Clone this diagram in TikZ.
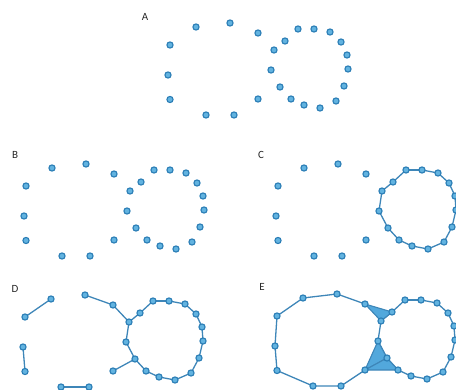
\documentclass[tikz,border=0pt]{standalone}
\usepackage{fontspec}
\setmainfont{Carlito}
\usetikzlibrary{backgrounds}
\definecolor{dotfill}{HTML}{62B3E0}
\definecolor{dotline}{HTML}{2A7DB5}
\definecolor{edgecol}{HTML}{3E86B8}
\definecolor{trifill}{HTML}{52A8DC}
\tikzset{
  dot/.style={circle,fill=dotfill,draw=dotline,line width=1.1pt,inner sep=0pt,minimum size=6.2pt},
  edge/.style={draw=edgecol,line width=1.3pt},
  tri/.style={fill=trifill,draw=edgecol,line width=1.1pt,line join=round},
  lbl/.style={font=\fontsize{11}{12}\selectfont,text=black!85,inner sep=0pt}
}
\newcommand\placepanel[3]{%
  \begin{scope}[shift={(#2,#3)}]
    \foreach \n/\px/\py in {L1/258/33,L2/230/23,L3/196/27,L4/170/45,L5/168/75,L6/170/99.5,L7/206/115,L8/234/115,L9/258/99,
      C1/298/29,C2/314/29,C3/330/32,C4/341/42,C5/347/55,C6/348/69,C7/344/86,C8/336/101,C9/320/108,C10/304/105,C11/291/99,C12/280/87,C13/271/70,C14/274/50,C15/285/41}
      \node[dot] (#1\n) at (\px,\py) {};
  \end{scope}}
\newcommand\ringedges[1]{%
  \foreach \i in {1,...,15}{%
    \pgfmathtruncatemacro\j{mod(\i,15)+1}%
    \draw[edge] (#1C\i.center) -- (#1C\j.center);}}
\begin{document}
\begin{tikzpicture}[x=1pt,y=-1pt]
\useasboundingbox (0,0) rectangle (456,389);
\clip (0,0) rectangle (456,389);
% panels
\placepanel{A}{0}{0}
\placepanel{B}{-144}{141}
\placepanel{C}{108}{141}
\placepanel{D}{-145}{272}
\placepanel{E}{107}{271}
% labels
\node[lbl] (labA) at (145,17) {A};
\node[lbl] (labB) at (15,155) {B};
\node[lbl] (labC) at (261,155) {C};
\node[lbl] (labD) at (15,289) {D};
\node[lbl] (labE) at (262,287) {E};
\begin{scope}[on background layer]
  % C
  \ringedges{C}
  % D
  \ringedges{D}
  \draw[edge] (DL3.center) -- (DL4.center);
  \draw[edge] (DL5.center) -- (DL6.center);
  \draw[edge] (DL7.center) -- (DL8.center);
  \draw[edge] (DL2.center) -- (DL1.center) -- (DC14.center);
  \draw[edge] (DL9.center) -- (DC12.center);
  % E
  \ringedges{E}
  \draw[edge,line join=round] (EL1.center) -- (EL2.center) -- (EL3.center) -- (EL4.center) -- (EL5.center) -- (EL6.center) -- (EL7.center) -- (EL8.center) -- (EL9.center);
  \draw[tri] (EL1.center) -- (EC15.center) -- (EC14.center) -- cycle;
  \draw[tri] (EL9.center) -- (EC13.center) -- (EC12.center) -- cycle;
  \draw[tri] (EL9.center) -- (EC12.center) -- (EC11.center) -- cycle;
\end{scope}
\end{tikzpicture}
\end{document}
